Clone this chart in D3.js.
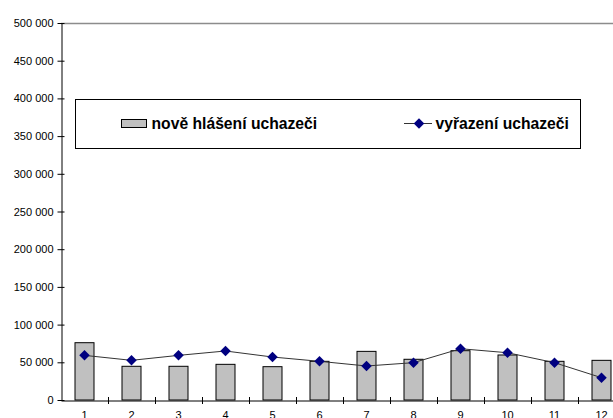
<!DOCTYPE html>
<html>
<head>
<meta charset="utf-8">
<script src="https://cdn.jsdelivr.net/npm/d3@7"></script>
<style>
  body { margin: 0; background: #fff; }
  svg { display: block; font-family: "Liberation Sans", Arial, sans-serif; }
</style>
</head>
<body>
<div id="chart"></div>
<script>
var months = ['1', '2', '3', '4', '5', '6', '7', '8', '9', '10', '11', '12'];
var noveHlaseni = [76000, 44700, 44700, 47300, 44200, 51300, 64500, 54000, 65400, 59700, 51300, 52600];
var vyrazeni = [59200, 52600, 59200, 65000, 57000, 51300, 45100, 49500, 68000, 62700, 49500, 29600];
var yTicks = [0, 50000, 100000, 150000, 200000, 250000, 300000, 350000, 400000, 450000, 500000];
var seriesNames = ['nově hlášení uchazeči', 'vyřazení uchazeči'];

var width = 613, height = 418;
var plotLeft = 61, plotRight = 625, plotTop = 23, plotBottom = 400;

var svg = d3.select('#chart').append('svg')
    .attr('width', width)
    .attr('height', height);

var x = d3.scaleBand().domain(months).range([plotLeft, plotRight]);
var y = d3.scaleLinear().domain([0, 500000]).range([plotBottom, plotTop]);

function fmt(v) {
  return d3.format(',')(v).replace(/,/g, ' ');
}

// top border of the plot area
svg.append('line')
    .attr('x1', plotLeft).attr('x2', width)
    .attr('y1', plotTop + 0.5).attr('y2', plotTop + 0.5)
    .attr('stroke', '#8c8c8c')
    .attr('stroke-width', 1.5);

// bars
svg.selectAll('rect.bar').data(noveHlaseni).enter().append('rect')
    .attr('class', 'bar')
    .attr('x', function(d, i) { return x(months[i]) + x.bandwidth() / 2 - 9.5; })
    .attr('width', 19)
    .attr('y', function(d) { return y(d); })
    .attr('height', function(d) { return plotBottom - y(d); })
    .attr('fill', '#c0c0c0')
    .attr('stroke', '#000')
    .attr('stroke-width', 1);

// y axis
var yAxis = svg.append('g')
    .attr('transform', 'translate(' + (plotLeft + 0.5) + ',0)')
    .call(d3.axisLeft(y).tickValues(yTicks).tickFormat(fmt).tickSizeInner(0).tickSizeOuter(0).tickPadding(8));
yAxis.select('.domain').attr('stroke', '#000');
yAxis.selectAll('.tick line').attr('x1', -4).attr('x2', 3).attr('stroke', '#000');
yAxis.selectAll('.tick text')
    .attr('font-size', 11)
    .attr('font-family', '"Liberation Sans", Arial, sans-serif')
    .attr('fill', '#000');

// x axis
var xAxis = svg.append('g')
    .attr('transform', 'translate(0,' + (plotBottom + 0.5) + ')')
    .call(d3.axisBottom(x).tickSize(0).tickPadding(11));
xAxis.select('.domain').attr('stroke', '#000');
xAxis.selectAll('.tick text')
    .attr('font-size', 11)
    .attr('font-family', '"Liberation Sans", Arial, sans-serif')
    .attr('fill', '#000');

// category boundary ticks
svg.selectAll('line.xtick').data(months.slice(1)).enter().append('line')
    .attr('class', 'xtick')
    .attr('x1', function(d) { return Math.round(x(d)) + 0.5; })
    .attr('x2', function(d) { return Math.round(x(d)) + 0.5; })
    .attr('y1', plotBottom - 3)
    .attr('y2', plotBottom + 4)
    .attr('stroke', '#000');

// line series
var line = d3.line()
    .x(function(d, i) { return x(months[i]) + x.bandwidth() / 2; })
    .y(function(d) { return y(d); });

svg.append('path')
    .datum(vyrazeni)
    .attr('d', line)
    .attr('fill', 'none')
    .attr('stroke', '#333')
    .attr('stroke-width', 1);

var diamond = d3.symbol().type(d3.symbolDiamond2).size(70);

svg.selectAll('path.marker').data(vyrazeni).enter().append('path')
    .attr('class', 'marker')
    .attr('d', diamond)
    .attr('transform', function(d, i) {
      return 'translate(' + (x(months[i]) + x.bandwidth() / 2) + ',' + y(d) + ')';
    })
    .attr('fill', '#000080');

// legend
var legend = svg.append('g');
legend.append('rect')
    .attr('x', 75.5).attr('y', 99.5)
    .attr('width', 505).attr('height', 49)
    .attr('fill', '#fff')
    .attr('stroke', '#000');

legend.append('rect')
    .attr('x', 121.5).attr('y', 119.5)
    .attr('width', 25).attr('height', 8)
    .attr('fill', '#c0c0c0')
    .attr('stroke', '#000');

legend.append('text')
    .attr('x', 151.5).attr('y', 128.5)
    .attr('font-size', 15.7)
    .attr('font-weight', 'bold')
    .text(seriesNames[0]);

legend.append('line')
    .attr('x1', 404).attr('x2', 432)
    .attr('y1', 123.5).attr('y2', 123.5)
    .attr('stroke', '#333');

legend.append('path')
    .attr('d', diamond)
    .attr('transform', 'translate(419,123.5)')
    .attr('fill', '#000080');

legend.append('text')
    .attr('x', 435.5).attr('y', 128.5)
    .attr('font-size', 15.7)
    .attr('font-weight', 'bold')
    .text(seriesNames[1]);
</script>
</body>
</html>
